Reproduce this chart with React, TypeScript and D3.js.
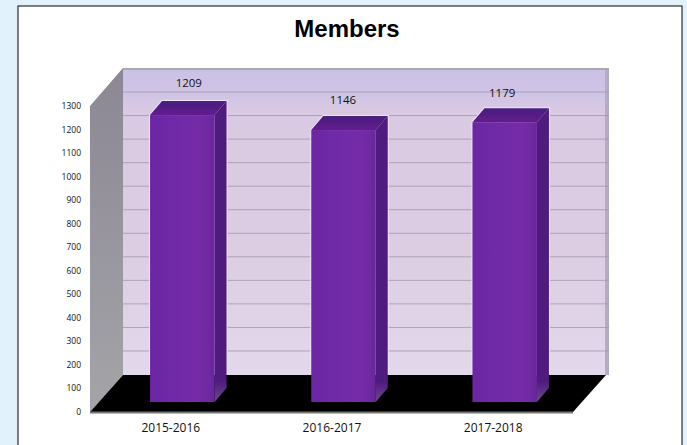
import React from "react";
import * as d3 from "d3";

const categories = ["2015-2016", "2016-2017", "2017-2018"];
const members = [1209, 1146, 1179];
const yTicks = [0, 100, 200, 300, 400, 500, 600, 700, 800, 900, 1000, 1100, 1200, 1300];
const chartTitle = "Members";

const W = 687, H = 445;
const y = d3.scaleLinear().domain([0, 1300]).range([412, 106]);
const barH = d3.scaleLinear().domain([0, 1300]).range([0, 308.5]);
const x = d3.scaleBand<string>().domain(categories).range([91, 573]).paddingInner(0.6).paddingOuter(0.295);
const DX = 33, DY = 36;   // full wall depth
const BX = 12, BY = 14;   // bar depth
const barShift = 11.5, barFrontDY = 10; // bar front offset in floor
const labelDx = [18, 11, 9];  // data label offsets from the band centre
const labelDy = [-40, -38, -37];
const poly = (pts: number[][]) => pts.map(p => p.join(",")).join(" ");

export default function App() {
  const x0 = 90, x1 = 573, y0 = y(0), yTop = y(1300);
  const wallTop = yTop - DY - 2;
  const wallBottom = y0 - DY - 1;
  return (
    <svg width={W} height={H} style={{ position: "absolute", left: 0, top: 0, display: "block" }}>
      <defs>
        <linearGradient id="wall" x1="0" y1="0" x2="0" y2="1">
          <stop offset="0" stopColor="#cbc1e6" />
          <stop offset="0.08" stopColor="#cfc4e6" />
          <stop offset="0.14" stopColor="#d9c9e2" />
          <stop offset="0.6" stopColor="#dccde3" />
          <stop offset="1" stopColor="#e2d8ec" />
        </linearGradient>
        <linearGradient id="side" x1="0" y1="0" x2="0" y2="1">
          <stop offset="0" stopColor="#8c8794" />
          <stop offset="1" stopColor="#a4a4a8" />
        </linearGradient>
        <linearGradient id="front" x1="0" y1="0" x2="1" y2="0">
          <stop offset="0" stopColor="#6c25a3" />
          <stop offset="0.4" stopColor="#6f2ca8" />
          <stop offset="0.75" stopColor="#762ca8" />
          <stop offset="1" stopColor="#6a279c" />
        </linearGradient>
        <linearGradient id="barSide" x1="0" y1="0" x2="0" y2="1">
          <stop offset="0" stopColor="#4e1a7c" />
          <stop offset="0.93" stopColor="#4f1c7e" />
          <stop offset="1" stopColor="#6d4a8c" />
        </linearGradient>
        <linearGradient id="barTop" x1="0" y1="0" x2="0" y2="1">
          <stop offset="0" stopColor="#47207e" />
          <stop offset="1" stopColor="#641c8e" />
        </linearGradient>
        <filter id="soft" x="-5%" y="-5%" width="110%" height="110%">
          <feGaussianBlur stdDeviation="0.6" />
        </filter>
      </defs>
      <rect x={0} y={0} width={W} height={H} fill="#e1f2fd" />
      <rect x={18} y={6} width={664} height={H} fill="#ffffff" stroke="#2b2b2b" strokeWidth={1.2} />
      <text x={347} y={37} textAnchor="middle" fontFamily="Liberation Sans" fontWeight="bold" fontSize={24} fill="#000">{chartTitle}</text>

      <g filter="url(#soft)">
        <rect x={x0 + DX} y={wallTop} width={x1 - x0 + 3} height={wallBottom - wallTop} fill="url(#wall)" />
        <rect x={x0 + DX} y={wallTop} width={x1 - x0 + 3} height={2} fill="#aaa8a8" />
        <rect x={x1 + DX - 1} y={wallTop + 2} width={4} height={wallBottom - wallTop - 2} fill="#b5abc4" />
        {yTicks.slice(1, -1).map(t => (
          <line key={t} x1={x0 + DX} x2={x1 + DX + 3} y1={y(t) - DY - 1.5} y2={y(t) - DY - 1.5} stroke="#a297ac" strokeWidth={1} opacity={0.8} />
        ))}
        <polygon points={poly([[x0, yTop], [x0 + DX, wallTop], [x0 + DX, wallBottom], [x0, y0]])} fill="url(#side)" />
        <polygon points={poly([[x0, y0], [x0 + DX, wallBottom], [x1 + DX, wallBottom], [x1, y0]])} fill="#000" />
        <rect x={x0} y={y0 - 0.5} width={x1 - x0} height={2} fill="#777" />

        {members.map((v, i) => {
          const c = categories[i];
          const xl = (x(c) as number) + barShift;
          const w = x.bandwidth();
          const base = y0 - barFrontDY;
          const top = base - barH(v);
          return (
            <g key={c}>
              <polyline points={poly([[xl, wallBottom - 1], [xl, top], [xl + BX, top - BY], [xl + w + BX, top - BY], [xl + w + BX, wallBottom - 1]])} fill="none" stroke="#efe3f6" strokeWidth={2} />
              <polygon points={poly([[xl + w, top], [xl + w + BX, top - BY], [xl + w + BX, base - BY], [xl + w, base]])} fill="url(#barSide)" />
              <polygon points={poly([[xl, top], [xl + BX, top - BY], [xl + w + BX, top - BY], [xl + w, top]])} fill="url(#barTop)" />
              <rect x={xl} y={top} width={w} height={base - top} fill="url(#front)" />
            </g>
          );
        })}
      </g>

      {yTicks.map(t => (
        <text key={t} x={81} y={y(t) + 3} textAnchor="end" fontFamily="Open Sans" fontSize={8.5} fill="#111">{t}</text>
      ))}
      {categories.map(c => (
        <text key={c} x={(x(c) as number) + x.bandwidth() / 2} y={432} textAnchor="middle" fontFamily="Open Sans" fontSize={12} fill="#111">{c}</text>
      ))}
      {members.map((v, i) => {
        const c = categories[i];
        const cx = (x(c) as number) + x.bandwidth() / 2 + labelDx[i] + 29 - 29 + 0;
        return <text key={c} x={cx} y={y(v) + labelDy[i]} textAnchor="middle" fontFamily="Open Sans" fontSize={11.5} fill="#111">{v}</text>;
      })}
    </svg>
  );
}
